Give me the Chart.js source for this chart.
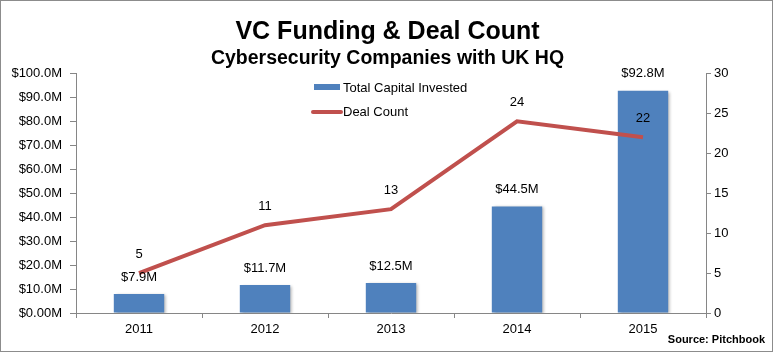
<!DOCTYPE html>
<html><head><meta charset="utf-8">
<script src="https://cdn.jsdelivr.net/npm/chart.js@4"></script>
<style>html,body{margin:0;padding:0;background:#fff}#w{width:775px;height:354px}</style>
</head><body><div id="w"><canvas id="c" width="775" height="354"></canvas></div>
<script>
const years = ['2011','2012','2013','2014','2015'];
const capital = [7.9, 11.7, 12.5, 44.5, 92.8];
const capitalLabels = ['$7.9M','$11.7M','$12.5M','$44.5M','$92.8M'];
const deals = [5, 11, 13, 24, 22];
const leftTicks = ['$0.00M','$10.0M','$20.0M','$30.0M','$40.0M','$50.0M','$60.0M','$70.0M','$80.0M','$90.0M','$100.0M'];
const rightTicks = ['0','5','10','15','20','25','30'];

const FONT = "'Liberation Sans', Arial, sans-serif";
const BLUE = '#4F81BD', RED = '#C0504D', AXIS = '#868686';

const extras = {
  id: 'extras',
  beforeDatasetDraw(chart, args) {
    if (args.meta.type === 'bar') {
      const ctx = chart.ctx; ctx.save();
      ctx.shadowColor = 'rgba(0,0,0,0.3)'; ctx.shadowOffsetX = 2; ctx.shadowOffsetY = 1; ctx.shadowBlur = 3;
    }
  },
  afterDatasetDraw(chart, args) {
    if (args.meta.type === 'bar') chart.ctx.restore();
  },
  afterDraw(chart) {
    const ctx = chart.ctx;
    ctx.save();
    ctx.font = '13px ' + FONT; ctx.fillStyle = '#000'; ctx.textAlign = 'center'; ctx.textBaseline = 'middle';
    chart.data.datasets.forEach((ds, di) => {
      const meta = chart.getDatasetMeta(di);
      meta.data.forEach((el, i) => {
        if (meta.type === 'bar') ctx.fillText(capitalLabels[i], el.x, el.y - 17);
        else ctx.fillText(String(deals[i]), el.x, el.y - 19);
      });
    });
    // legend
    ctx.fillStyle = BLUE; ctx.fillRect(314, 84, 26, 6);
    ctx.strokeStyle = RED; ctx.lineWidth = 4; ctx.lineCap = 'round';
    ctx.beginPath(); ctx.moveTo(313, 112); ctx.lineTo(341, 112); ctx.stroke();
    ctx.fillStyle = '#000'; ctx.textAlign = 'left';
    ctx.fillText('Total Capital Invested', 343, 88);
    ctx.fillText('Deal Count', 343, 112);
    // source
    ctx.font = 'bold 11px ' + FONT; ctx.textAlign = 'right';
    ctx.fillText('Source: Pitchbook', 765, 340);
    // frame
    ctx.strokeStyle = '#8c8c8c'; ctx.lineWidth = 1; ctx.lineCap = 'butt';
    ctx.strokeRect(0.5, 0.5, 772, 351);
    ctx.restore();
  }
};

new Chart(document.getElementById('c'), {
  data: {
    labels: years,
    datasets: [
      { type: 'line', label: 'Deal Count', data: deals, yAxisID: 'y1', borderColor: RED, borderWidth: 4, pointRadius: 0, tension: 0, order: 0 },
      { type: 'bar', label: 'Total Capital Invested', data: capital, yAxisID: 'y', backgroundColor: BLUE, categoryPercentage: 1, barPercentage: 0.4, order: 1 }
    ]
  },
  plugins: [extras],
  options: {
    responsive: false, animation: false, devicePixelRatio: 1,
    layout: { padding: { top: 0, left: 0, right: 0, bottom: 0 } },
    plugins: {
      legend: { display: false }, tooltip: { enabled: false },
      title: { display: true, text: 'VC Funding & Deal Count', color: '#000', font: { family: FONT, size: 25, weight: 'bold' }, padding: { top: 17, bottom: 0 } },
      subtitle: { display: true, text: 'Cybersecurity Companies with UK HQ', color: '#000', font: { family: FONT, size: 19.5, weight: 'bold' }, padding: { top: 0, bottom: 3 } }
    },
    scales: {
      x: {
        offset: true,
        grid: { display: true, drawOnChartArea: false, offset: true, color: AXIS, tickLength: 5, tickColor: AXIS },
        border: { color: AXIS, width: 1 },
        ticks: { color: '#000', font: { family: FONT, size: 13 }, padding: 4, maxRotation: 0 },
        afterFit(s) { s.height = 41; }
      },
      y: {
        position: 'left', min: 0, max: 100,
        grid: { drawOnChartArea: false, color: AXIS, tickLength: 6, tickColor: AXIS },
        border: { color: AXIS },
        ticks: { stepSize: 10, color: '#000', font: { family: FONT, size: 13 }, padding: 8, callback: (v, i) => leftTicks[i] },
        afterFit(s) { s.width = 76; }
      },
      y1: {
        position: 'right', min: 0, max: 30,
        grid: { drawOnChartArea: false, color: AXIS, tickLength: 5, tickColor: AXIS },
        border: { color: AXIS },
        ticks: { stepSize: 5, color: '#000', font: { family: FONT, size: 13 }, padding: 3, callback: (v, i) => rightTicks[i] },
        afterFit(s) { s.width = 69; }
      }
    }
  }
});
</script></body></html>
